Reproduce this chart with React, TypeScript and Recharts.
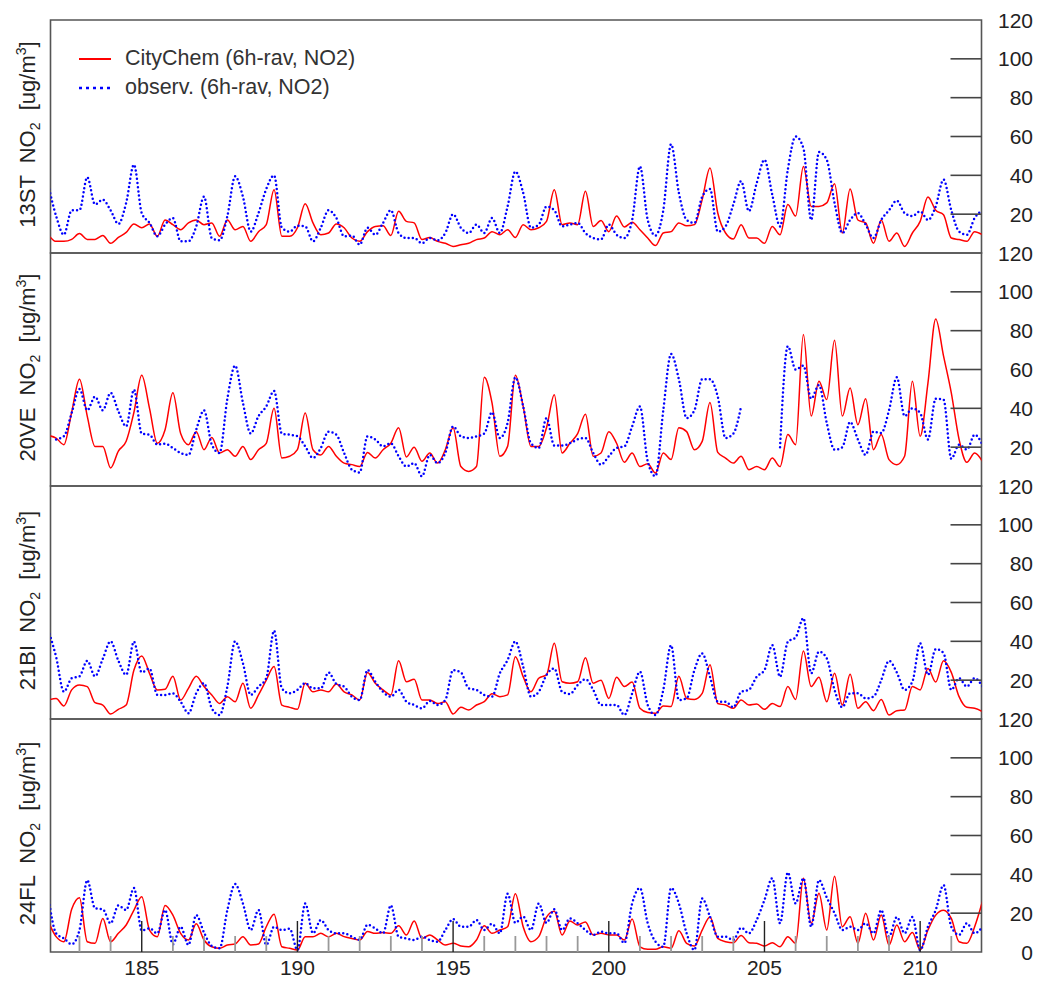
import React from "react";
import { LineChart, Line, XAxis, YAxis, ReferenceArea, Legend } from "recharts";

const FONT = '"Liberation Sans", Arial, Helvetica, sans-serif';

// 6-hourly samples, day of year 182.00 ... 212.00
const TIMES = Array.from({ length: 121 }, (_, i) => 182 + i * 0.25);

// NO2 [ug/m3], one row per day (00, 06, 12, 18 h)
const st13Model = [
  9.4, 6, 6, 7,
  10, 7, 7, 9,
  5, 8, 10.6, 15,
  13, 15, 8.6, 17,
  14.6, 12, 15.5, 17,
  14.6, 15.5, 8.6, 17,
  12, 13.7, 6, 11,
  14.6, 32.6, 8.6, 8.6,
  13, 25.4, 15.5, 9.4,
  10.3, 15, 13, 7.7,
  6, 11, 13.7, 14,
  9, 21.5, 16.3, 15.5,
  6.9, 8, 6, 5,
  3.4, 4.3, 5, 6.9,
  7.7, 11, 9.4, 12,
  8, 14.6, 12, 13,
  16.3, 32.6, 14.6, 15.5,
  14.6, 31.8, 13.7, 16.8,
  11, 19, 13.4, 15.8,
  12, 7.7, 3.8, 10.3,
  11, 15.5, 14, 14.6,
  27.5, 43.8, 20.6, 10.3,
  7.2, 14.6, 7.7, 7.7,
  5, 13.7, 9.4, 25,
  19, 44.6, 24, 24,
  25.8, 35.7, 10.3, 33,
  17, 15.5, 5, 17,
  6, 10.3, 3.4, 10.3,
  16.3, 28.8, 22, 19.7,
  7.7, 6.9, 6, 11,
  9.4,
];

const st13Obs = [
  35, 19, 9.4, 22,
  22, 39, 25, 27.5,
  22, 15, 25.8, 45.5,
  20.6, 15.5, 8.6, 14.6,
  18, 6, 6, 13.7,
  29, 7.7, 6.5, 19,
  39.5, 29, 11, 20.6,
  33, 40, 13, 11,
  14, 13.7, 6, 13,
  22, 18, 8.6, 9,
  4.3, 13, 9.4, 15.5,
  22, 10.3, 7.7, 7.7,
  5, 7.7, 6.5, 10.3,
  20, 13, 10.3, 14.6,
  10.3, 18, 10.3, 24,
  42, 31, 13, 14.6,
  24, 22, 13.7, 14.6,
  15.5, 10.3, 7.7, 7,
  14.6, 9.4, 7.7, 17,
  44.6, 17, 9, 22,
  56, 31, 17, 15.5,
  29, 33, 11, 13.7,
  25, 37, 21.5, 36,
  48, 30, 13.7, 43,
  60, 54, 17, 52,
  48, 25.8, 10.3, 17,
  20.6, 14.6, 7.7, 17,
  22, 27, 20.6, 19,
  21.5, 17, 24, 37.8,
  22, 11, 9.4, 18,
  22,
];

const st20Model = [
  26, 24.7, 21.3, 38,
  55, 36, 20.4, 20.4,
  9.3, 18, 23, 38,
  57, 40, 22, 29,
  48, 27, 21.3, 28,
  18.7, 25, 17, 18.7,
  15.3, 20.4, 13.6, 18.7,
  22, 40, 14.4, 15.3,
  18.7, 37.6, 18.7, 16,
  20.4, 15.3, 11.8, 11,
  10, 17.3, 14.4, 18.7,
  22, 30, 15, 20,
  12.7, 17, 11.8, 18.7,
  30, 10, 7.5, 10,
  56, 42.8, 15.3, 20.4,
  57, 41, 20.4, 20.4,
  30, 47, 17, 22,
  27, 37, 15.3, 17,
  28, 22, 12.2, 17,
  10, 11.5, 6.7, 17,
  13.6, 30, 28, 18.7,
  23, 43, 17.3, 14.4,
  11.8, 15.3, 8.4, 10,
  8.4, 14.4, 10, 26.5,
  21.3, 78, 36, 54,
  44.5, 75, 36, 50.5,
  31.6, 45, 18.7, 26.5,
  13.6, 11, 15.3, 54,
  25.6, 53, 86, 67,
  48, 24, 12.2, 17,
  12.7,
];

const st20Obs = [
  null, 24, 25.6, 37.6,
  50, 39, 46, 39,
  48, 38.5, 30.7, 49.6,
  27, 26.4, 21.3, 21.8,
  19.6, 17, 16, 29,
  39, 21.3, 17, 45,
  62, 42.8, 27, 36,
  41, 49, 27, 26.4,
  25.6, 20.4, 14.4, 19.6,
  28, 26.4, 17, 8.4,
  7, 25.6, 24, 20.4,
  22, 15.3, 10, 11.8,
  5, 16, 11.8, 17,
  30.7, 25.6, 24.7, 25.6,
  27, 38, 24.7, 32.5,
  56, 41, 22, 19.6,
  35, 20.8, 20.8, 22,
  24, 24.7, 17, 11,
  15.3, 19.6, 20.4, 30.7,
  41, 12.7, 5, 39,
  68, 55, 35, 39,
  55, 55, 46, 24.7,
  27, 41, null, null,
  null, null, 20, 72,
  60, 62, 45, 52,
  32.5, 18.7, 20, 33,
  24, 16, 28, 27.3,
  39, 56, 36, 40,
  37.6, 24, 45, 44.5,
  14, 21.3, 18.7, 26.4,
  21.3,
];

const st21Model = [
  9.8, 10.6, 6.7, 15,
  17.5, 16.7, 8.4, 7.2,
  2.6, 5, 7.2, 25.2,
  32.5, 23.5, 15, 15.3,
  22, 9.8, 15.8, 22,
  16.7, 12.4, 8, 11.5,
  8.9, 18.4, 5.5, 12.4,
  20, 27, 7.2, 6,
  5, 18.4, 14, 15,
  14, 18, 14, 12.4,
  9.8, 24, 18.4, 15,
  12.4, 30, 19.2, 20.5,
  9.8, 9.8, 8, 8.9,
  2.6, 6, 4.6, 7.2,
  8.9, 13, 11.5, 12.4,
  32, 21.8, 14, 21,
  22.7, 39, 19.2, 18.4,
  19.2, 31.5, 18.4, 20,
  10.6, 21.5, 16.7, 19,
  5.5, 3.3, 2.9, 6.7,
  6.4, 22, 10.6, 10.1,
  13.2, 28, 8, 7.2,
  5.5, 9.8, 7.2, 7.7,
  5, 8, 6.4, 16.7,
  10.1, 35, 16.7, 21.5,
  8.9, 23.5, 7.2, 23,
  5.5, 8.9, 4.3, 10.1,
  2, 4.3, 4.6, 16.7,
  15, 26, 19, 30,
  24, 11.5, 6, 5.5,
  3.8,
];

const st21Obs = [
  45.8, 32, 14, 21,
  22, 30, 22, 31,
  40, 30, 22.7, 39.8,
  24, 26, 12.4, 12.4,
  13.2, 8.9, 2.9, 13.2,
  18.4, 5.5, 2, 16.7,
  40, 28.7, 12.4, 16.7,
  21, 45.5, 15.8, 13.2,
  15, 18.4, 15.8, 15.8,
  24, 18, 16.7, 11.5,
  9.8, 25.2, 19.2, 14,
  11.5, 15, 8.9, 7.2,
  5.5, 9.3, 7.2, 9.8,
  25.2, 24, 15.8, 15,
  12.4, 11.5, 23.5, 30.4,
  40, 27, 11.5, 14,
  22.7, 26, 14, 12.9,
  17.5, 20.5, 15, 7.2,
  7.2, 7.2, 2, 13.2,
  24.4, 7.2, 2, 15,
  38, 9.8, 10.6, 25.2,
  33.8, 21.8, 8.9, 8.9,
  6, 14, 15, 21.8,
  25.2, 38, 21.8, 39.8,
  42, 52, 23.5, 34.7,
  31.2, 15, 6, 13.2,
  13.2, 10.6, 11.5, 20,
  30, 24, 15, 19.2,
  39, 22.7, 36, 34,
  15, 21, 16.7, 21,
  16.7,
];

const st24Model = [
  15.6, 7.9, 5.3, 22,
  28, 5.3, 4.5, 17.3,
  5.3, 9.6, 13.9, 21.6,
  28.5, 11.3, 7.9, 24,
  19, 9.6, 6.2, 14.5,
  6.2, 2.7, 1.9, 3.6,
  4.1, 7.9, 3.6, 4.1,
  13, 19.5, 2.7, 1.9,
  1, 7.9, 7.9, 9.6,
  7.9, 9.6, 7.9, 7,
  6.2, 10.5, 9.6, 10,
  9.6, 13.5, 8.8, 16,
  7, 8.8, 6.2, 3.6,
  4.5, 3.1, 2.7, 6.2,
  13.5, 9.6, 11.3, 13,
  30, 13, 5.3, 7.9,
  18, 21, 8.8, 16,
  13.9, 15.5, 8.8, 9.6,
  8.8, 8.8, 6.2, 17,
  2.7, 1.4, 1.4, 2.7,
  1.9, 11, 4.5, 3.1,
  11.3, 18, 7, 5.3,
  4.8, 8.5, 4.8, 4.5,
  3.1, 4.8, 2.7, 7.9,
  4.5, 38, 14.8, 30.2,
  11.3, 39, 13, 18.2,
  4.5, 20, 6.2, 19,
  3.6, 13.9, 5.3, 10,
  1, 11.3, 19, 21.5,
  17.3, 5.3, 4.5, 13,
  26,
];

const st24Obs = [
  28.5, 9.6, 7, 4,
  11.3, 37, 22.5, 22,
  14.8, 24, 21.6, 33,
  11, 12.2, 9.6, 21.6,
  4, 13, 3.6, 19,
  10, 3.1, 1.9, 21.6,
  35, 25, 11.3, 21.6,
  3.6, 13, 11.3, 12,
  1, 25, 9.6, 16.5,
  11.3, 9.6, 9.6, 7.9,
  6.2, 14, 12.2, 9.6,
  24, 7.9, 7, 6.2,
  7.9, 6.2, 5.3, 11.3,
  17, 13, 13, 16.5,
  11.3, 14.5, 9.6, 30,
  15, 18.2, 11.3, 25,
  15, 22, 11.3, 17.3,
  14.8, 11.3, 8.8, 10.5,
  9.6, 9.6, 4.5, 25,
  33, 14.8, 5.3, 2.7,
  33, 25, 9.6, 1,
  27.6, 18.2, 7.9, 7.9,
  6.2, 12.5, 9.6, 16.5,
  26.8, 38, 14.8, 41,
  25, 38, 13, 37,
  28, 20, 11.3, 13,
  11.3, 14.8, 9.6, 21.6,
  7.9, 18, 9.6, 18,
  1, 13, 21.6, 34.5,
  13, 8.8, 14.8, 9.6,
  13,
];

const STATIONS = [
  { name: "13ST", model: st13Model, obs: st13Obs },
  { name: "20VE", model: st20Model, obs: st20Obs },
  { name: "21BI", model: st21Model, obs: st21Obs },
  { name: "24FL", model: st24Model, obs: st24Obs },
];

const MODEL_NAME = "CityChem (6h-rav, NO2)";
const OBS_NAME = "observ. (6h-rav, NO2)";

const X_DOMAIN: [number, number] = [182.07, 211.97];
const DAY_TICKS = [
  183, 184, 185, 186, 187, 188, 189, 190, 191, 192, 193, 194, 195, 196, 197,
  198, 199, 200, 201, 202, 203, 204, 205, 206, 207, 208, 209, 210, 211,
];
const Y_TICKS = [20, 40, 60, 80, 100, 120];
const Y_TICKS_LAST = [0, 20, 40, 60, 80, 100, 120];

const TOP = 20;
const PANEL_H = 233;
const PAD = 12;
const AXIS_H = 29;
const LEFT_W = 50.5;
const RIGHT_W = 56.5;

function ValueTick(props: any) {
  const { x, y, payload } = props;
  const v = payload.value;
  return (
    <g>
      {v > 0 && v < 120 && (
        <line x1={x - 31} x2={x} y1={y} y2={y} stroke="#444" strokeWidth={1.6} />
      )}
      <text
        x={x + 51.5}
        y={y}
        dy="0.36em"
        textAnchor="end"
        fontFamily={FONT}
        fontSize={21}
        fill="#222"
      >
        {v}
      </text>
    </g>
  );
}

function DayTick(props: any) {
  const { x, y, payload } = props;
  const major = payload.value % 5 === 0;
  return (
    <g>
      <line
        x1={x}
        x2={x}
        y1={y}
        y2={y - (major ? 31 : 16)}
        stroke={major ? "#222" : "#999"}
        strokeWidth={major ? 1.4 : 1.8}
      />
      {major && (
        <text
          x={x}
          y={y + 23}
          textAnchor="middle"
          fontFamily={FONT}
          fontSize={21}
          fill="#222"
        >
          {payload.value}
        </text>
      )}
    </g>
  );
}

function stationLabel(name: string) {
  return () => (
    <text
      transform={`translate(35, ${PAD + PANEL_H / 2 - 2}) rotate(-90)`}
      textAnchor="middle"
      fontFamily={FONT}
      fontSize={22}
      fill="#222"
      style={{ whiteSpace: "pre" }}
    >
      <tspan>{name + "  NO"}</tspan>
      <tspan dy={5} fontSize={14}>2</tspan>
      <tspan dy={-5}>{"  [ug/m"}</tspan>
      <tspan dy={-9} fontSize={14}>3</tspan>
      <tspan dy={9}>]</tspan>
    </text>
  );
}

function renderLegend(props: any) {
  const { payload = [] } = props;
  return (
    <div style={{ fontFamily: FONT, fontSize: 21.5, color: "#333" }}>
      {payload.map((entry: any) => {
        const dotted = entry.dataKey === "obs";
        return (
          <div
            key={entry.value}
            style={{ display: "flex", alignItems: "center", height: 29, whiteSpace: "nowrap" }}
          >
            <svg width={47} height={10} style={{ flex: "none" }}>
              <line
                x1={1}
                x2={33}
                y1={5}
                y2={5}
                stroke={entry.color}
                strokeWidth={dotted ? 2.4 : 2}
                strokeDasharray={dotted ? "3 4" : undefined}
              />
            </svg>
            <span>{entry.value}</span>
          </div>
        );
      })}
    </div>
  );
}

function Panel({ station, index, last }: { station: any; index: number; last: boolean }) {
  const data = TIMES.map((t, i) => ({ t, model: station.model[i], obs: station.obs[i] }));
  const height = PAD + PANEL_H + (last ? AXIS_H : PAD);
  return (
    <div style={{ position: "absolute", left: 0, top: TOP + index * PANEL_H - PAD }}>
      <LineChart
        width={1038}
        height={height}
        data={data}
        margin={{ top: PAD, right: 0, bottom: last ? 0 : PAD, left: 0 }}
      >
        <XAxis
          type="number"
          dataKey="t"
          domain={X_DOMAIN}
          allowDataOverflow
          hide={!last}
          ticks={DAY_TICKS}
          interval={0}
          height={AXIS_H}
          tickSize={0}
          tickMargin={0}
          axisLine={false}
          tickLine={false}
          tick={DayTick}
        />
        <YAxis
          yAxisId="label"
          orientation="left"
          width={LEFT_W}
          domain={[0, 1]}
          tick={false}
          axisLine={false}
          tickLine={false}
          label={{ content: stationLabel(station.name) }}
        />
        <YAxis
          yAxisId="v"
          orientation="right"
          width={RIGHT_W}
          domain={[0, 120]}
          allowDataOverflow
          ticks={last ? Y_TICKS_LAST : Y_TICKS}
          interval={0}
          tickSize={0}
          tickMargin={0}
          axisLine={false}
          tickLine={false}
          tick={ValueTick}
        />
        <ReferenceArea
          yAxisId="v"
          x1={X_DOMAIN[0]}
          x2={X_DOMAIN[1]}
          y1={0}
          y2={120}
          fill="none"
          stroke="#555"
          strokeWidth={1.6}
          ifOverflow="visible"
        />
        <Line
          yAxisId="v"
          dataKey="model"
          name={MODEL_NAME}
          type="monotone"
          stroke="#ff0000"
          strokeWidth={1.5}
          dot={false}
          activeDot={false}
          isAnimationActive={false}
        />
        <Line
          yAxisId="v"
          dataKey="obs"
          name={OBS_NAME}
          type="monotone"
          stroke="#0000ff"
          strokeWidth={2.5}
          strokeDasharray="0 4.2"
          strokeLinecap="round"
          dot={false}
          activeDot={false}
          connectNulls={false}
          isAnimationActive={false}
        />
        {index === 0 && (
          <Legend
            layout="vertical"
            align="center"
            verticalAlign="middle"
            content={renderLegend}
            wrapperStyle={{ left: 78, top: 36, width: "auto", height: "auto" }}
          />
        )}
      </LineChart>
    </div>
  );
}

export default function App() {
  return (
    <div
      style={{
        position: "absolute",
        left: 0,
        top: 0,
        width: 1038,
        height: 981,
        background: "#fff",
        overflow: "hidden",
      }}
    >
      {STATIONS.map((s, i) => (
        <Panel key={s.name} station={s} index={i} last={i === STATIONS.length - 1} />
      ))}
    </div>
  );
}
